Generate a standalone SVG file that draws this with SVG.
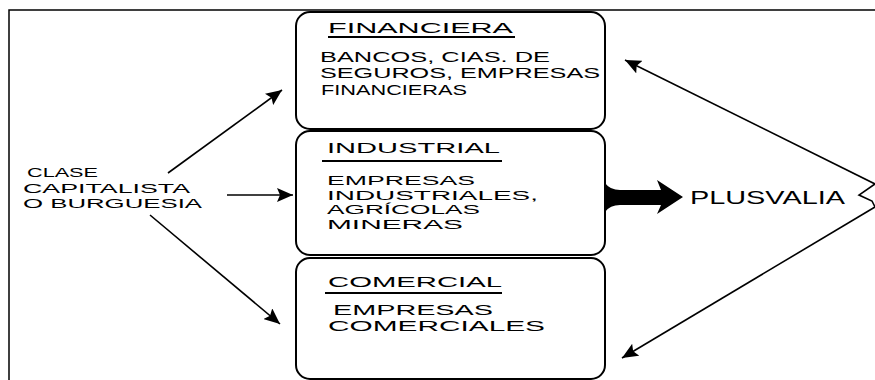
<svg xmlns="http://www.w3.org/2000/svg" width="875" height="380" viewBox="0 0 875 380">
<defs>
<style>
.frame{fill:none;stroke:#000;stroke-width:1.5}
.box{fill:#fff;stroke:#000;stroke-width:2}
.t{font-family:"Liberation Sans",Arial,sans-serif;fill:#000;font-size:15px}
.b{font-family:"Liberation Sans",Arial,sans-serif;fill:#000;font-size:14px}
.i{font-family:"Liberation Sans",Arial,sans-serif;fill:#000;font-size:12.5px}
.s{font-family:"Liberation Sans",Arial,sans-serif;fill:#000;font-size:12px}
.p{font-family:"Liberation Sans",Arial,sans-serif;fill:#000;font-size:18px}
.ul{stroke:#000;stroke-width:2}
.c{fill:none;stroke:#000;stroke-width:1.6}
</style>
<marker id="ah" markerUnits="userSpaceOnUse" markerWidth="18" markerHeight="14" refX="16" refY="7" orient="auto">
<path d="M0,0 L16,7 L0,14 L3,7 z" fill="#000"/>
</marker>
</defs>
<rect width="875" height="380" fill="#fff"/>
<path class="frame" d="M9,385 L9,10 L880,10"/>

<g id="financiera">
<rect class="box" x="296" y="12" width="309" height="117" rx="14"/>
<text class="t" x="328" y="33" textLength="185" lengthAdjust="spacingAndGlyphs">FINANCIERA</text>
<line class="ul" x1="328" y1="37" x2="515" y2="37"/>
<text class="b" x="320" y="62" textLength="230" lengthAdjust="spacingAndGlyphs">BANCOS, CIAS. DE</text>
<text class="b" x="320" y="78" textLength="280" lengthAdjust="spacingAndGlyphs">SEGUROS, EMPRESAS</text>
<text class="b" x="321" y="95" textLength="146" lengthAdjust="spacingAndGlyphs">FINANCIERAS</text>
</g>

<g id="industrial">
<rect class="box" x="296" y="131" width="309" height="124" rx="14"/>
<text class="t" x="327" y="153" textLength="173" lengthAdjust="spacingAndGlyphs">INDUSTRIAL</text>
<line class="ul" x1="322" y1="161" x2="502" y2="161"/>
<text class="i" x="327" y="185" textLength="148" lengthAdjust="spacingAndGlyphs">EMPRESAS</text>
<text class="i" x="327" y="199.5" textLength="211" lengthAdjust="spacingAndGlyphs">INDUSTRIALES,</text>
<text class="i" x="327" y="214" textLength="153" lengthAdjust="spacingAndGlyphs">AGRÍCOLAS</text>
<text class="i" x="327" y="228.5" textLength="136" lengthAdjust="spacingAndGlyphs">MINERAS</text>
</g>

<g id="comercial">
<rect class="box" x="296" y="258" width="309" height="121" rx="14"/>
<text class="t" x="328" y="287" textLength="174" lengthAdjust="spacingAndGlyphs">COMERCIAL</text>
<line class="ul" x1="325" y1="293" x2="502" y2="293"/>
<text class="b" x="333" y="315" textLength="160" lengthAdjust="spacingAndGlyphs">EMPRESAS</text>
<text class="b" x="328" y="331" textLength="217" lengthAdjust="spacingAndGlyphs">COMERCIALES</text>
</g>

<g id="clase">
<text class="s" x="27" y="177" textLength="71" lengthAdjust="spacingAndGlyphs">CLASE</text>
<text class="i" x="23" y="192.5" textLength="167" lengthAdjust="spacingAndGlyphs">CAPITALISTA</text>
<text class="i" x="23" y="208" textLength="179" lengthAdjust="spacingAndGlyphs">O BURGUESIA</text>
</g>

<g id="plusvalia">
<text class="p" x="690" y="204" textLength="155" lengthAdjust="spacingAndGlyphs">PLUSVALIA</text>
</g>

<g id="connectors">
<line class="c" x1="168" y1="173" x2="282" y2="90" marker-end="url(#ah)"/>
<line class="c" x1="227" y1="195" x2="293" y2="195" marker-end="url(#ah)"/>
<line class="c" x1="150" y1="215" x2="280" y2="324" marker-end="url(#ah)"/>
<path d="M605,183 Q610,190 620,190 L661,190 L657,180 L683,197 L657,214 L661,205 L620,205 Q610,205 605,212 Z" fill="#000"/>
<line class="c" x1="875" y1="184" x2="625" y2="60" marker-end="url(#ah)"/>
<line class="c" x1="875" y1="207" x2="622" y2="358" marker-end="url(#ah)"/>
<path class="c" d="M875,184 L859,195 L872,201 L875,207"/>
</g>
</svg>
